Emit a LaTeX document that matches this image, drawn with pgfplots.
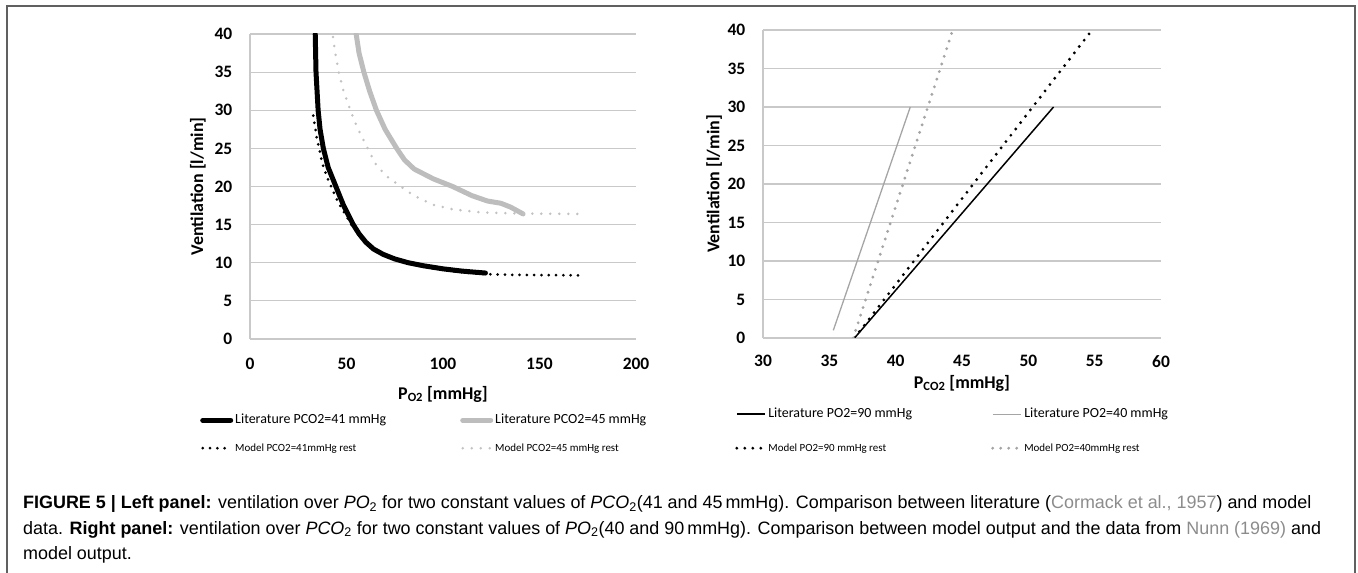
\documentclass[border=0pt]{standalone}
\usepackage{fontspec}
\setmainfont{Carlito}
\newfontfamily\capfont{Liberation Sans}
\usepackage{pgfplots}
\pgfplotsset{compat=1.18}
\definecolor{gridc}{HTML}{C9C9C9}
\definecolor{litgray}{HTML}{BDBDBD}
\definecolor{modgray}{HTML}{C2C2C2}
\definecolor{rgray}{HTML}{A5A5A5}
\definecolor{framec}{HTML}{606060}
\definecolor{citec}{HTML}{8C8C8C}
\pgfplotsset{
  excel/.style={
    scale only axis, anchor=south west,
    axis lines=left, axis line style={-, draw=gridc, line width=1.2bp},
    ymajorgrids, grid style={draw=gridc, line width=1.2bp},
    major tick length=0pt,
    ymin=0, ymax=40, ytick={0,5,...,40},
    tick label style={font=\fontsize{17.5}{20}\selectfont\bfseries, inner sep=0pt},
    /pgf/number format/assume math mode=true,
    yticklabel shift=17.5bp,
    label style={font=\fontsize{18}{21}\selectfont\bfseries, inner sep=0pt},
    legend columns=2,
    legend cell align=left,
    legend image code/.code={\draw[##1] (2bp,0bp) -- (30bp,0bp);},
  },
}
\begin{document}
\begin{tikzpicture}
\path[use as bounding box] (0,0) rectangle (1358bp,573bp);
\draw[framec, line width=1.5bp] (7bp,-2bp) -- (7bp,567bp) -- (1355bp,567bp) -- (1355bp,-2bp);

% ---------------- left panel
\begin{axis}[excel,
  at={(250bp,234bp)}, width=386bp, height=305bp,
  xmin=0, xmax=200, xtick={0,50,...,200},
  xticklabel shift=19bp,
  xlabel={P\textsubscript{O2} [mmHg]},
  xlabel style={at={(axis description cs:0.5,-0.154)}, anchor=north},
  ylabel={Ventilation [l/min]},
  ylabel style={at={(axis description cs:-0.1347,0.5)}, anchor=center},
  legend style={at={(axis description cs:-0.1295,-0.2443)}, anchor=north west,
    draw=none, fill=none, inner sep=0pt, font=\fontsize{14}{16}\selectfont,
    column sep=2bp, row sep=15bp,
    /tikz/every even column/.append style={column sep=74bp},
    nodes={inner sep=0pt, text height=10bp, text depth=3bp}},
]
\addplot[black, line width=5bp, line join=round, line cap=round] coordinates {
(33.8,40)(34.2,35)(35.3,30)(36.3,27.5)(38,25)(40.5,22.5)(44.5,20)(48.5,17.5)(53.5,15)(56.5,13.8)(60,12.7)(64,11.8)(69,11.1)(75,10.5)(82,10)(90,9.6)(100,9.2)(110,8.9)(122,8.65)};
\addlegendentry{Literature PCO2=41 mmHg}
\addplot[litgray, line width=5bp, line join=round, line cap=round] coordinates {
(55,40)(56.5,37.5)(59,35)(62,32.5)(65.5,30)(70,27.5)(76,25)(80,23.5)(85,22.3)(95,21)(105,20)(115,18.8)(123,18.1)(130,17.8)(135,17.3)(141.5,16.4)};
\addlegendentry{Literature PCO2=45 mmHg}
\addplot[black, line width=3bp, line cap=round, dash pattern=on 0bp off 7.3bp] coordinates {
(32.8,29.3)(33.6,28)(34.5,26.5)(35.8,25)(37.5,23)(39.5,21.5)(42,20)(45.5,18)(49,16.5)(53,14.8)(57,13.5)(62,12.3)(68,11.3)(75,10.5)(82,10)(90,9.5)(100,9.05)(110,8.75)(122,8.5)(140,8.4)(170,8.35)};
\addlegendentry{\fontsize{11}{13}\selectfont Model PCO2=41mmHg rest}
\addplot[modgray, line width=2.8bp, line cap=round, dash pattern=on 0bp off 9bp] coordinates {
(43,39.6)(44.5,37)(46,35)(48.5,32.5)(52,30)(56,27.5)(61,25)(65,23)(70,21.5)(78,20)(85,18.8)(95,17.6)(105,17)(120,16.6)(140,16.45)(172,16.4)};
\addlegendentry{\fontsize{11}{13}\selectfont Model PCO2=45 mmHg rest}
\end{axis}

% ---------------- right panel
\begin{axis}[excel,
  at={(763bp,235bp)}, width=398bp, height=308bp,
  xmin=30, xmax=60, xtick={30,35,...,60},
  xticklabel shift=17bp,
  xlabel={P\textsubscript{CO2} [mmHg]},
  xlabel style={at={(axis description cs:0.5,-0.12)}, anchor=north},
  ylabel={Ventilation [l/min]},
  ylabel style={at={(axis description cs:-0.123,0.5)}, anchor=center},
  legend style={at={(axis description cs:-0.0704,-0.2256)}, anchor=north west,
    draw=none, fill=none, inner sep=0pt, font=\fontsize{14}{16}\selectfont,
    column sep=2bp, row sep=21bp,
    /tikz/every even column/.append style={column sep=79bp},
    nodes={inner sep=0pt, text height=10bp, text depth=3bp}},
]
\addplot[black, line width=1.5bp] coordinates {(36.9,0)(51.9,30)};
\addlegendentry{Literature PO2=90 mmHg}
\addplot[rgray, line width=1.3bp] coordinates {(35.3,1)(41.1,30)};
\addlegendentry{Literature PO2=40 mmHg}
\addplot[black, line width=3.2bp, line cap=round, dash pattern=on 0bp off 8bp] coordinates {(36.9,0)(54.8,40)};
\addlegendentry{\fontsize{11}{13}\selectfont Model PO2=90 mmHg rest}
\addplot[rgray, line width=3.2bp, line cap=round, dash pattern=on 0bp off 8bp] coordinates {(36.8,0)(44.3,40)};
\addlegendentry{\fontsize{11}{13}\selectfont Model PO2=40mmHg rest}
\end{axis}

% ---------------- caption
\begin{scope}[every node/.style={anchor=base west, inner sep=0pt, font=\capfont\fontsize{18}{21}\selectfont}]
\node at (23bp,64bp) {\textbf{FIGURE 5 | Left panel:} ventilation over \textit{PO}\textsubscript{2} for two constant values of \textit{PCO}\textsubscript{2}(41 and 45\,mmHg). Comparison between literature (\textcolor{citec}{Cormack et al., 1957}) and model};
\node at (23bp,39bp) {data. \textbf{Right panel:} ventilation over \textit{PCO}\textsubscript{2} for two constant values of \textit{PO}\textsubscript{2}(40 and 90\,mmHg). Comparison between model output and the data from \textcolor{citec}{Nunn (1969)} and};
\node at (23bp,14bp) {model output.};
\end{scope}
\end{tikzpicture}
\end{document}
